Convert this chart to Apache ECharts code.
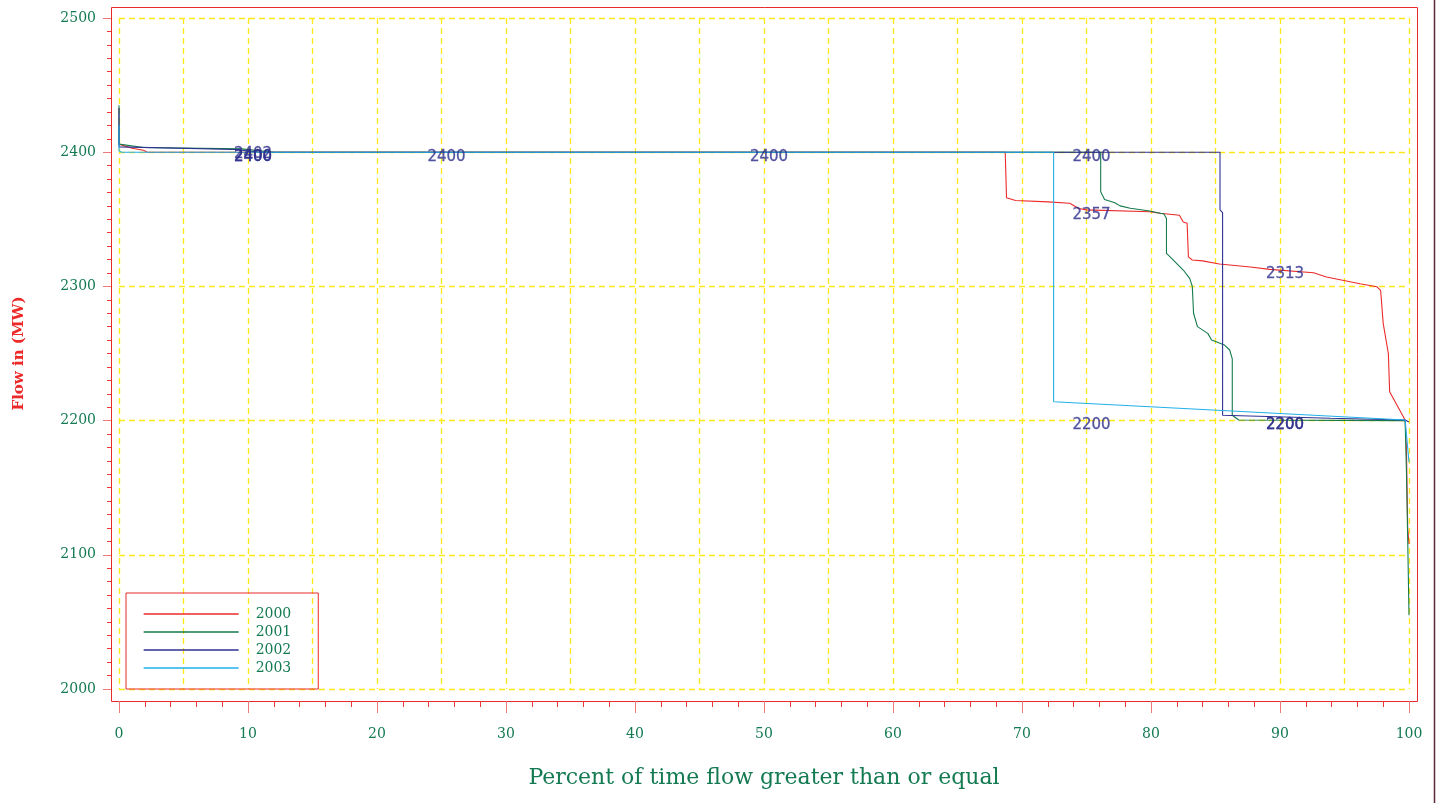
<!DOCTYPE html>
<html>
<head>
<meta charset="utf-8">
<script src="https://cdn.jsdelivr.net/npm/echarts@6/dist/echarts.min.js"></script>
<style>
html,body{margin:0;padding:0;background:#fff;}
#chart{width:1442px;height:803px;}
</style>
</head>
<body>
<div id="chart"></div>
<script>
// ---- data (percent of time, flow MW) ----
const pct2000  = [0, 0, 0.1, 1.0, 1.9, 2.2, 68.7, 68.8, 69.5, 72.0, 73.7, 74.4, 75.0, 79.9, 80.7, 82.2, 82.5, 82.8, 82.9, 83.2, 84.0, 85.3, 87.7, 89.2, 92.6, 93.6, 96.2, 97.5, 97.8, 98.0, 98.4, 98.5, 99.7, 99.8, 99.9, 100];
const flow2000 = [2420, 2406, 2405, 2403, 2401.5, 2400, 2400, 2366, 2364, 2363, 2362, 2358, 2357, 2355.6, 2354.5, 2353, 2348, 2347, 2322, 2319.7, 2319, 2316.7, 2314.5, 2312.7, 2310.2, 2307, 2302, 2299.8, 2297, 2272.5, 2250, 2221.5, 2200.4, 2180, 2120, 2108];

const pct2001  = [0, 0, 0.1, 1.9, 9.5, 12, 76.1, 76.1, 76.4, 77.2, 77.6, 78.4, 79.9, 81.0, 81.2, 81.2, 81.6, 82.5, 83.0, 83.2, 83.3, 83.6, 84.4, 84.7, 85.7, 86.1, 86.3, 86.3, 86.8, 95.0, 99.7, 99.8, 99.9, 100];
const flow2001 = [2435, 2406, 2405, 2403.5, 2402.5, 2400, 2400, 2370.5, 2364.8, 2362.4, 2360, 2358.2, 2356.2, 2353.9, 2350.6, 2324.6, 2320.9, 2312.2, 2306, 2300, 2280, 2270, 2265, 2260, 2256.3, 2252.6, 2246, 2204, 2200.4, 2200.2, 2200, 2163, 2111, 2055];

const pct2002  = [0, 0, 0.1, 9, 11, 85.35, 85.35, 85.5, 85.55, 85.55, 93.9, 99.7, 100];
const flow2002 = [2433, 2404, 2403.5, 2402, 2400, 2400, 2357, 2355.6, 2355, 2204, 2201.7, 2200.4, 2199];

const pct2003  = [0, 0, 0.2, 72.45, 72.45, 99.7, 100];
const flow2003 = [2420, 2401, 2400, 2400, 2214, 2200.5, 2169];

const seriesNames = ['2000', '2001', '2002', '2003'];

// percentile labels
const labelPct  = [10, 10, 10, 25, 50, 75, 75, 75, 90, 90, 90];
const labelFlow = [2400, 2400, 2402, 2400, 2400, 2400, 2357, 2200, 2313, 2200, 2200];
const labelText = ['2400', '2400', '2402', '2400', '2400', '2400', '2357', '2200', '2313', '2200', '2200'];

// ---- build ----
const zip = (a, b) => a.map((v, i) => [v, b[i]]);
const colors = ['#ec2a2a', '#157a4c', '#2e3192', '#22b0ea'];
const green = '#137a52';
const serif = 'DejaVu Serif';
const gridYellow = '#ffe81a';
const labelNavy = '#2e2f8c';

const lineSeries = [
  [pct2000, flow2000], [pct2001, flow2001], [pct2002, flow2002], [pct2003, flow2003]
].map((d, i) => ({
  name: seriesNames[i],
  type: 'line',
  data: zip(d[0], d[1]),
  symbol: 'none',
  xAxisIndex: 0, yAxisIndex: 0,
  lineStyle: { color: colors[i], width: 1.1 },
  itemStyle: { color: colors[i] },
  emphasis: { disabled: true },
  z: 3
}));

const chart = echarts.init(document.getElementById('chart'), null, { renderer: 'canvas' });
chart.setOption({
  animation: false,
  backgroundColor: '#ffffff',
  grid: [
    { left: 119, right: 33, top: 18, bottom: 114 },
    { left: 111, right: 25, top: 18, bottom: 114 }
  ],
  legend: {
    data: seriesNames,
    orient: 'vertical',
    left: 126, top: 593,
    borderColor: '#e82a2a', borderWidth: 1,
    padding: [14, 27, 14, 17],
    itemWidth: 95, itemHeight: 14, itemGap: 4,
    itemStyle: { opacity: 0 },
    lineStyle: { width: 1.3 },
    textStyle: { color: green, fontFamily: serif, fontSize: 14, padding: [0, 0, 0, 12] }
  },
  xAxis: [
    {
      type: 'value', gridIndex: 0, min: 0, max: 100, interval: 10, offset: 12,
      axisLine: { show: true, lineStyle: { color: '#e82a2a' } },
      axisTick: { show: true, inside: false, length: 12, lineStyle: { color: '#f07878' } },
      minorTick: { show: true, splitNumber: 5, length: 6, lineStyle: { color: '#e83a3a' } },
      axisLabel: { color: green, fontFamily: serif, fontSize: 14, margin: 26 },
      splitLine: { show: false },
      name: 'Percent of time flow greater than or equal',
      nameLocation: 'middle', nameGap: 66,
      nameTextStyle: { color: green, fontFamily: serif, fontSize: 22 }
    },
    {
      type: 'value', gridIndex: 0, min: 0, max: 100, interval: 5, position: 'bottom',
      axisLine: { show: false }, axisTick: { show: false }, axisLabel: { show: false },
      splitLine: { show: true, lineStyle: { color: gridYellow, type: [6, 4], width: 1.3 } }
    },
    {
      type: 'value', gridIndex: 1, min: 0, max: 100, show: false
    }
  ],
  yAxis: [
    {
      type: 'value', gridIndex: 0, min: 2000, max: 2500, interval: 100,
      axisLine: { show: false }, axisTick: { show: false }, axisLabel: { show: false },
      splitLine: { show: true, lineStyle: { color: gridYellow, type: [6, 4], width: 1.3 } }
    },
    {
      type: 'value', gridIndex: 1, min: 2000, max: 2500, interval: 100,
      axisLine: { show: true, lineStyle: { color: '#e82a2a' } },
      axisTick: { show: true, inside: false, length: 8, lineStyle: { color: '#f07878' } },
      minorTick: { show: true, splitNumber: 10, length: 4, lineStyle: { color: '#e83a3a' } },
      axisLabel: { color: green, fontFamily: serif, fontSize: 14, margin: 15, formatter: v => String(v) },
      splitLine: { show: false },
      name: 'Flow in (MW)', nameLocation: 'middle', nameGap: 84,
      nameTextStyle: { color: '#ec2a2a', fontFamily: serif, fontSize: 15, fontWeight: 'bold' }
    }
  ],
  series: lineSeries.concat([{
    name: 'labels', type: 'scatter', symbolSize: 0,
    xAxisIndex: 0, yAxisIndex: 0,
    data: zip(labelPct, labelFlow),
    silent: true,
    itemStyle: { color: labelNavy },
    label: {
      show: true, position: 'inside', offset: [5, 5],
      formatter: p => labelText[p.dataIndex],
      color: labelNavy, fontFamily: 'DejaVu Sans', fontSize: 15,
      textBorderColor: labelNavy, textBorderWidth: 0.3, textShadowBlur: 0
    },
    z: 5
  }]),
  graphic: [
    { type: 'rect', shape: { x: 111.5, y: 7.5, width: 1306, height: 694 }, style: { fill: 'none', stroke: '#e82a2a', lineWidth: 1 }, z: 0, silent: true },
    { type: 'line', shape: { x1: 1434.5, y1: 0, x2: 1434.5, y2: 803 }, style: { stroke: '#5a2a3a', lineWidth: 1.5 }, silent: true }
  ]
});
</script>
</body>
</html>
